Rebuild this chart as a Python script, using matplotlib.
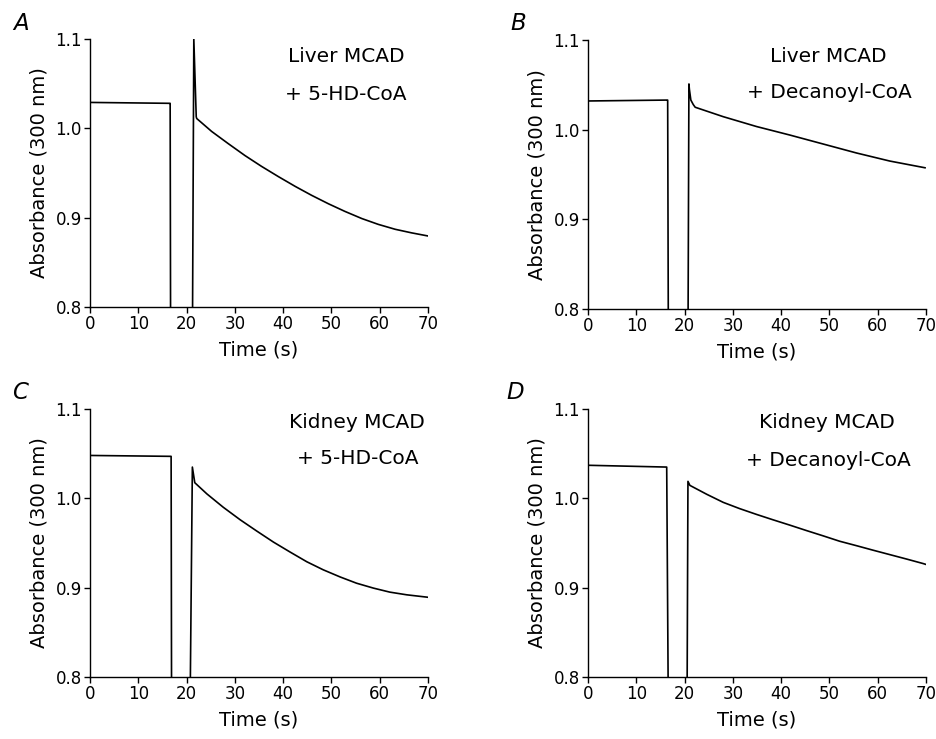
import numpy as np
import matplotlib
matplotlib.use("Agg")
import matplotlib.pyplot as plt

plt.rcParams['font.family'] = ['DejaVu Sans']

W, H = 937, 739

# traces (time in s, absorbance at 300 nm)
# values below 0.8 are off-scale (the trace leaves the axes there)
t_a = [0, 16.5, 16.6, 16.7, 21.2, 21.5, 22.0, 22.1, 25.2, 28.6, 32.1, 35.5, 39.0, 42.5,
       45.9, 49.4, 52.8, 56.3, 59.7, 63.2, 66.6, 70]
a_a = [1.029, 1.028, 1.028, 0.75, 0.75, 1.100, 1.013, 1.011, 0.9965, 0.983, 0.9695, 0.9575,
       0.946, 0.935, 0.925, 0.9155, 0.907, 0.899, 0.8925, 0.887, 0.883, 0.8795]

t_b = [0, 16.3, 16.5, 16.65, 20.7, 20.9, 21.0, 21.3, 21.8, 22.2, 28.0, 34.9, 41.8, 48.7,
       55.6, 62.5, 69.8]
a_b = [1.032, 1.033, 1.033, 0.75, 0.75, 1.051, 1.045, 1.033, 1.028, 1.025, 1.0145, 1.0035,
       0.994, 0.984, 0.974, 0.965, 0.9575]

t_c = [0, 16.8, 16.9, 20.7, 21.2, 21.7, 24.2, 27.6, 31.1, 34.5, 38.0, 41.4, 44.9, 48.3,
       51.8, 55.2, 58.7, 62.1, 65.6, 70.4]
a_c = [1.048, 1.047, 0.75, 0.75, 1.035, 1.0175, 1.005, 0.990, 0.976, 0.9635, 0.951,
       0.940, 0.929, 0.920, 0.912, 0.905, 0.8995, 0.895, 0.892, 0.889]

t_d = [0, 16.3, 16.65, 20.5, 20.7, 21.1, 24.6, 28.0, 31.4, 34.9, 38.3, 41.8, 45.2, 48.7,
       52.1, 55.6, 59.0, 62.5, 66.0, 69.4, 70]
a_d = [1.037, 1.035, 0.75, 0.75, 1.019, 1.0145, 1.0045, 0.9955, 0.9885, 0.982, 0.976,
       0.970, 0.964, 0.958, 0.952, 0.947, 0.942, 0.937, 0.932, 0.927, 0.926]

letters = ['A', 'B', 'C', 'D']
line1 = ['Liver MCAD', 'Liver MCAD', 'Kidney MCAD', 'Kidney MCAD']
line2 = ['+ 5-HD-CoA', '+ Decanoyl-CoA', '+ 5-HD-CoA', '+ Decanoyl-CoA']
x_ticks = [0, 10, 20, 30, 40, 50, 60, 70]
y_ticks = [0.8, 0.9, 1.0, 1.1]

# panel boxes in pixels: left, top, right, bottom
boxes = [(90, 39, 428, 307), (588, 40, 926, 309), (90, 409, 428, 677), (588, 409, 926, 677)]
letter_pos = [(21, 24), (518, 24), (20, 392), (515, 392)]
text_pos = [((346, 57), (346, 95)), ((828, 57), (829, 93)),
            ((357, 423), (358, 459)), ((827, 423), (828, 460))]

traces = [(t_a, a_a), (t_b, a_b), (t_c, a_c), (t_d, a_d)]

fig = plt.figure(figsize=(W / 100, H / 100), dpi=100)

for i in range(4):
    l, t, r, b = boxes[i]
    ax = fig.add_axes([l / W, 1 - b / H, (r - l) / W, (b - t) / H])
    x, y = traces[i]
    ax.plot(x, y, color='black', lw=1.2)
    ax.set_xlim(0, 70)
    ax.set_ylim(0.8, 1.1)
    ax.set_xticks(x_ticks)
    ax.set_yticks(y_ticks)
    ax.set_yticklabels(['%.1f' % v for v in y_ticks])
    ax.spines['top'].set_visible(False)
    ax.spines['right'].set_visible(False)
    for s in ['left', 'bottom']:
        ax.spines[s].set_linewidth(1.0)
    ax.tick_params(direction='out', length=4, width=1.0, labelsize=12, pad=2)
    ax.set_xlabel('Time (s)', fontsize=14, labelpad=5)
    ax.set_ylabel('Absorbance (300 nm)', fontsize=14, labelpad=5)

    lx, ly = letter_pos[i]
    fig.text(lx / W, 1 - ly / H, letters[i], fontsize=16.5, style='italic',
             ha='center', va='center')
    (x1, y1), (x2, y2) = text_pos[i]
    fig.text(x1 / W, 1 - y1 / H, line1[i], fontsize=14.5, ha='center', va='center')
    fig.text(x2 / W, 1 - y2 / H, line2[i], fontsize=14.5, ha='center', va='center')

fig.savefig('out.png', dpi=100)
